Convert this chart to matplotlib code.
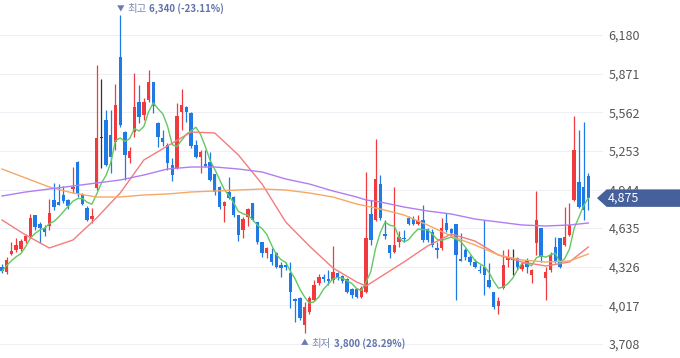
import matplotlib.pyplot as plt
import pandas as pd
from matplotlib.patches import Polygon
from matplotlib.transforms import blended_transform_factory

# 일봉 시가/고가/저가/종가
opens = [4324, 4284, 4428, 4460, 4468, 4532, 4572, 4740, 4668, 4636,
         4652, 4860, 4844, 4900, 4860, 4948, 5164, 4900, 4796, 4708,
         4956, 5356, 5500, 5380, 5324, 6004, 5404, 5196, 5404, 5644,
         5540, 5660, 5804, 5476, 5356, 5300, 5140, 5116, 5564, 5604,
         5556, 5300, 5204, 5148, 5164, 5068, 4964, 4812, 4924, 4884,
         4740, 4620, 4724, 4836, 4684, 4524, 4436, 4428, 4436, 4340,
         4340, 4276, 4068, 4076, 3860, 3964, 4060, 4196, 4244, 4228,
         4220, 4276, 4252, 4228, 4148, 4148, 4084, 4124, 4748, 4700,
         4988, 4588, 4500, 4444, 4524, 4556, 4716, 4708, 4668, 4700,
         4620, 4604, 4476, 4476, 4676, 4628, 4668, 4388, 4460, 4404,
         4364, 4300, 4324, 4220, 4124, 4012, 4156, 4380, 4380, 4396,
         4308, 4380, 4260, 4516, 4636, 4236, 4300, 4484, 4556, 4500,
         4580, 4860, 5004, 4964, 5052]
highs = [4348, 4404, 4524, 4556, 4548, 4588, 4748, 4740, 4684, 4660,
         4868, 4996, 4988, 4972, 4868, 5124, 5172, 4916, 4812, 4796,
         5940, 5828, 5580, 5580, 5788, 6340, 5412, 5284, 5876, 5780,
         5676, 5900, 5804, 5484, 5420, 5316, 5196, 5636, 5748, 5612,
         5564, 5340, 5260, 5260, 5244, 5068, 4972, 4852, 5044, 4892,
         4740, 4724, 4796, 4836, 4684, 4524, 4484, 4476, 4444, 4364,
         4364, 4364, 4076, 4084, 4044, 4092, 4220, 4268, 4268, 4300,
         4492, 4284, 4260, 4236, 4156, 4156, 4172, 5084, 4860, 5348,
         5060, 4700, 4500, 4964, 4612, 4620, 4732, 4732, 4740, 4820,
         4636, 4628, 4524, 4716, 4756, 4636, 4668, 4596, 4476, 4420,
         4388, 4340, 4700, 4356, 4124, 4084, 4460, 4468, 4468, 4404,
         4364, 4396, 4308, 4932, 4636, 4324, 4444, 4564, 4556, 4804,
         4836, 5532, 5420, 5484, 5076]
lows = [4276, 4268, 4420, 4444, 4452, 4516, 4556, 4620, 4516, 4572,
        4620, 4780, 4820, 4836, 4788, 4916, 4884, 4820, 4692, 4676,
        4940, 5116, 5132, 5076, 5260, 5444, 5020, 5156, 5364, 5476,
        5500, 5644, 5556, 5284, 5292, 5100, 5012, 5108, 5420, 5484,
        5276, 5196, 5076, 5124, 5012, 4900, 4788, 4684, 4868, 4724,
        4532, 4556, 4652, 4692, 4508, 4404, 4396, 4340, 4316, 4244,
        4300, 3996, 3884, 3900, 3800, 3948, 4052, 4180, 4204, 4180,
        4196, 4220, 4196, 4116, 4076, 4076, 4076, 4116, 4500, 4692,
        4700, 4548, 4396, 4436, 4484, 4524, 4660, 4660, 4660, 4524,
        4524, 4484, 4396, 4460, 4604, 4564, 4060, 4372, 4380, 4340,
        4316, 4276, 4100, 4156, 3988, 3948, 4148, 4324, 4260, 4308,
        4292, 4276, 4196, 4420, 4364, 4060, 4284, 4356, 4316, 4492,
        4572, 4852, 4796, 4700, 4780]
closes = [4292, 4380, 4452, 4500, 4532, 4572, 4716, 4644, 4636, 4604,
          4756, 4804, 4820, 4852, 4812, 4964, 4908, 4828, 4700, 4732,
          5356, 5356, 5140, 5204, 5620, 5460, 5220, 5252, 5604, 5524,
          5644, 5804, 5612, 5364, 5324, 5156, 5060, 5532, 5620, 5564,
          5292, 5204, 5244, 5132, 5020, 4924, 4804, 4844, 4876, 4740,
          4580, 4708, 4788, 4700, 4524, 4436, 4476, 4364, 4324, 4316,
          4324, 4124, 4052, 3916, 4004, 4076, 4180, 4244, 4228, 4212,
          4284, 4236, 4212, 4124, 4100, 4084, 4156, 4556, 4540, 5028,
          4716, 4572, 4436, 4500, 4564, 4548, 4668, 4668, 4692, 4540,
          4540, 4500, 4460, 4636, 4620, 4596, 4420, 4372, 4404, 4364,
          4324, 4292, 4260, 4164, 4004, 4052, 4340, 4396, 4380, 4324,
          4340, 4324, 4300, 4700, 4404, 4284, 4420, 4364, 4324, 4564,
          4660, 5260, 4804, 4780, 4875]

# 이동평균선 (그림에서 읽은 값, 캔들 번호 기준)
ma_idx = [0, 5, 10, 15, 20, 25, 30, 35, 40, 45, 50, 55, 60, 65, 70,
          75, 77, 80, 85, 90, 95, 100, 105, 110, 115, 120, 124]
ma20 = [4700, 4580, 4476, 4540, 4716, 4916, 5180, 5292, 5404, 5396,
        5220, 4988, 4684, 4492, 4316, 4204, 4172, 4244, 4364, 4492,
        4588, 4532, 4420, 4364, 4332, 4364, 4484]
ma60 = [5108, 5036, 4964, 4916, 4884, 4884, 4900, 4908, 4924, 4932,
        4940, 4948, 4940, 4916, 4884, 4828, 4812, 4788, 4740, 4660,
        4572, 4500, 4420, 4380, 4364, 4372, 4428]
ma120 = [4892, 4924, 4948, 4972, 4996, 5020, 5060, 5108, 5124, 5124,
         5108, 5084, 5028, 4988, 4932, 4884, 4860, 4844, 4804, 4772,
         4748, 4708, 4684, 4660, 4652, 4660, 4676]

yticks = [3708, 4017, 4326, 4635, 4944, 5253, 5562, 5871, 6180]

plt.rcParams['font.family'] = ['Noto Sans CJK KR', 'DejaVu Sans']

df = pd.DataFrame({'open': opens, 'high': highs, 'low': lows, 'close': closes})
n = len(df)
ma5 = df['close'].rolling(5, min_periods=1).mean()

up_c, dn_c, doji_c = '#f03a3e', '#1f7ae6', '#333333'
colors = [up_c if c > o else (dn_c if c < o else doji_c)
          for o, c in zip(df['open'], df['close'])]

fig = plt.figure(figsize=(6.8, 3.58), dpi=100)
ax = fig.add_axes([0, 0, 603 / 680, 1])

# 심지
ax.vlines(range(n), df['low'], df['high'], colors=colors, lw=0.9, zorder=2)
# 몸통
bottom = df[['open', 'close']].min(axis=1)
height = (df['close'] - df['open']).abs().clip(lower=8)
ax.bar(range(n), height, 0.72, bottom=bottom, color=colors, lw=0, zorder=2)

# 이동평균선
ax.plot(range(n), ma5, color='#62c962', lw=1, zorder=3)
ax.plot(ma_idx, ma20, color='#f37d7d', lw=1, zorder=3)
ax.plot(ma_idx, ma60, color='#f6a865', lw=1, zorder=3)
ax.plot(ma_idx, ma120, color='#b17df2', lw=1, zorder=3)

ax.set_xlim(-0.42, 127.1)
ax.set_ylim(3596, 6460)
ax.set_xticks([])
ax.set_yticks(yticks)
ax.set_yticklabels([f'{v:,}' for v in yticks])
ax.yaxis.tick_right()
ax.tick_params(axis='y', length=0, pad=4, labelsize=9, labelcolor='#555555')
ax.grid(axis='y', color='#eef0f5', lw=0.8)
ax.set_axisbelow(True)
for s in ax.spines.values():
    s.set_visible(False)


def mark(idx, price, arrow, word, pct, dy):
    # 삼각형 + 라벨 + 값(굵게)
    t1 = ax.annotate(arrow, xy=(idx, price), xytext=(0, dy),
                     textcoords='offset pixels', ha='center', va='center',
                     fontsize=5.5, color='#6a7cae', annotation_clip=False)
    t2 = ax.annotate(word, xy=(1, 0.5), xycoords=t1, xytext=(3, 0),
                     textcoords='offset pixels', ha='left', va='center',
                     fontsize=7.5, color='#7b89ad')
    ax.annotate(f'{price:,} ({pct:.2f}%)', xy=(1, 0.5), xycoords=t2,
                xytext=(3, 0), textcoords='offset pixels', ha='left',
                va='center', fontsize=7, fontweight='bold', color='#6074aa')


# 최고/최저 표시
hi = df['high'].idxmax()
lo = df['low'].idxmin()
last = df['close'].iloc[-1]
mark(hi, df['high'][hi], '▼', '최고', (last - df['high'][hi]) / df['high'][hi] * 100, 6)
mark(lo, df['low'][lo], '▲', '최저', (last - df['low'][lo]) / df['low'][lo] * 100, -11)

# 현재가 표시
tr = blended_transform_factory(ax.transAxes, ax.transData)
tag = Polygon([(0.990, last), (1.006, last + 70), (1.13, last + 70),
               (1.13, last - 70), (1.006, last - 70)],
              closed=True, transform=tr, fc='#46609c', ec='none',
              clip_on=False, zorder=10)
ax.add_patch(tag)
ax.text(1.008, last, f'{last:,}', transform=tr, ha='left', va='center',
        fontsize=9, color='white', zorder=11)

fig.savefig('out.png', dpi=100, facecolor='white')
